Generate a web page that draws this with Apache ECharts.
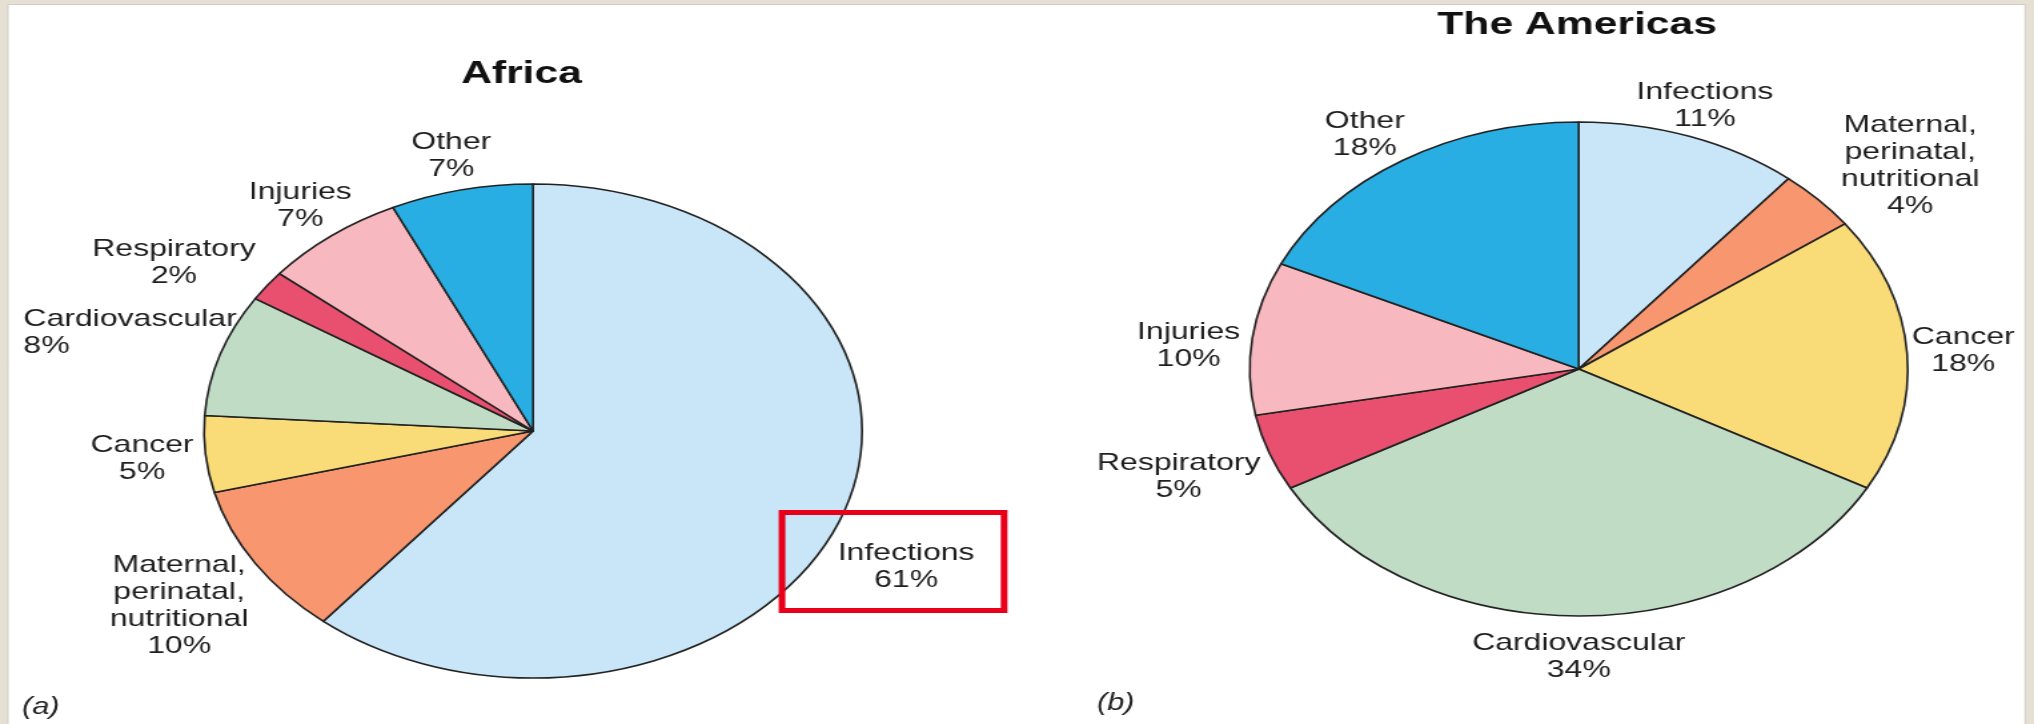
<!DOCTYPE html>
<html>
<head>
<meta charset="utf-8">
<title>Causes of death: Africa and the Americas</title>
<script src="https://cdn.jsdelivr.net/npm/echarts/dist/echarts.min.js"></script>
<style>
  html, body { margin: 0; padding: 0; overflow: hidden; background: #e6dfd3; }
  /* The figure is laid out on a narrower canvas and widened horizontally. */
  #chart { width: 1527px; height: 724px; transform: scaleX(1.332023); transform-origin: 0 0; }
</style>
</head>
<body>
<div id="chart"></div>
<script>
// Share of deaths by cause, listed clockwise from 12 o'clock.
const causes = ['Infections', 'Maternal,\nperinatal,\nnutritional', 'Cancer', 'Cardiovascular', 'Respiratory', 'Injuries', 'Other'];
const africaShares = [61, 10, 5, 8, 2, 7, 7];
const americasShares = [11, 4, 18, 34, 5, 10, 18];
const panelTitles = ['Africa', 'The Americas'];
const panelTags = ['(a)', '(b)'];

// Styling
const causeColors = ['#c8e6f7', '#f7966f', '#f9db78', '#c1dcc5', '#e9506f', '#f8b8bf', '#28aee2'];
const FONT = '"Liberation Sans", Arial, Helvetica, sans-serif';
const PIE_R = 247;
const LABEL_GAP = 7;

// Per-label fine tuning: turn (deg) around the pie, extra gap (px), alignment.
const africaLabelTweaks = [
  { turn: 6 }, { turn: -1, gap: 2 }, { gap: 2 }, { gap: -20, align: 'left' },
  { turn: -4, gap: 13 }, { gap: -3 }, { gap: 0 }
];
const americasLabelTweaks = [
  { gap: -3 }, { turn: 4 }, { gap: -3.5 }, { gap: 6.5 }, {}, { turn: -2.7, gap: 1 }, { turn: -2, gap: -2.5 }
];

function midAngles(values) {
  const total = values.reduce((a, b) => a + b, 0);
  let acc = 0;
  return values.map(v => { const m = (acc + v / 2) / total * 360; acc += v; return m; });
}

function makePie(center, shares, tweaks) {
  const mids = midAngles(shares);
  return {
    type: 'pie',
    center: center,
    radius: PIE_R,
    startAngle: 90,
    clockwise: true,
    avoidLabelOverlap: false,
    silent: true,
    animation: false,
    label: {
      show: true,
      position: 'outside',
      formatter: '{b}\n{c}%',
      fontFamily: FONT,
      fontSize: 24,
      lineHeight: 27,
      color: '#1e1e1e'
    },
    labelLine: { show: false },
    itemStyle: { borderColor: '#222222', borderWidth: 1.6 },
    emphasis: { disabled: true },
    labelLayout: function (p) {
      const t = tweaks[p.dataIndex] || {};
      const th = (mids[p.dataIndex] + (t.turn || 0)) * Math.PI / 180;
      const ux = Math.sin(th), uy = -Math.cos(th);
      const hw = p.labelRect.width / 2, hh = p.labelRect.height / 2;
      const reach = Math.min(Math.abs(ux) > 1e-6 ? hw / Math.abs(ux) : Infinity,
                             Math.abs(uy) > 1e-6 ? hh / Math.abs(uy) : Infinity);
      const d = PIE_R + LABEL_GAP + (t.gap || 0) + reach;
      const x = center[0] + ux * d, y = center[1] + uy * d;
      if (t.align === 'left') return { x: x - hw, y: y, align: 'left', verticalAlign: 'middle' };
      return { x: x, y: y, align: 'center', verticalAlign: 'middle' };
    },
    data: causes.map((name, i) => ({ name: name, value: shares[i], itemStyle: { color: causeColors[i] } }))
  };
}

const chart = echarts.init(document.getElementById('chart'), null, { renderer: 'canvas' });
chart.setOption({
  backgroundColor: '#e6dfd3',
  animation: false,
  graphic: [
    { type: 'rect', z: -10, shape: { x: 6, y: 4.5, width: 1514.3, height: 730 },
      style: { fill: '#ffffff', stroke: '#d3cdc3', lineWidth: 1 } },
    { type: 'text', x: 391.5, y: 74,
      style: { text: panelTitles[0], fontFamily: FONT, fontSize: 32, fontWeight: 'bold', fill: '#111', align: 'center', verticalAlign: 'middle' } },
    { type: 'text', x: 1184, y: 25.5,
      style: { text: panelTitles[1], fontFamily: FONT, fontSize: 32, fontWeight: 'bold', fill: '#111', align: 'center', verticalAlign: 'middle' } },
    { type: 'text', x: 16.5, y: 707.5,
      style: { text: panelTags[0], fontFamily: FONT, fontSize: 23, fontStyle: 'italic', fill: '#222', align: 'left', verticalAlign: 'middle' } },
    { type: 'text', x: 823.6, y: 704,
      style: { text: panelTags[1], fontFamily: FONT, fontSize: 23, fontStyle: 'italic', fill: '#222', align: 'left', verticalAlign: 'middle' } },
    // highlight frame around the Infections label of Africa
    { type: 'rect', z: 100, shape: { x: 587.1, y: 512.5, width: 166.7, height: 98 },
      style: { fill: 'none', stroke: '#e8001a', lineWidth: 5 } }
  ],
  series: [
    makePie([400.2, 431], africaShares, africaLabelTweaks),
    makePie([1185.2, 369], americasShares, americasLabelTweaks)
  ]
});
</script>
</body>
</html>
